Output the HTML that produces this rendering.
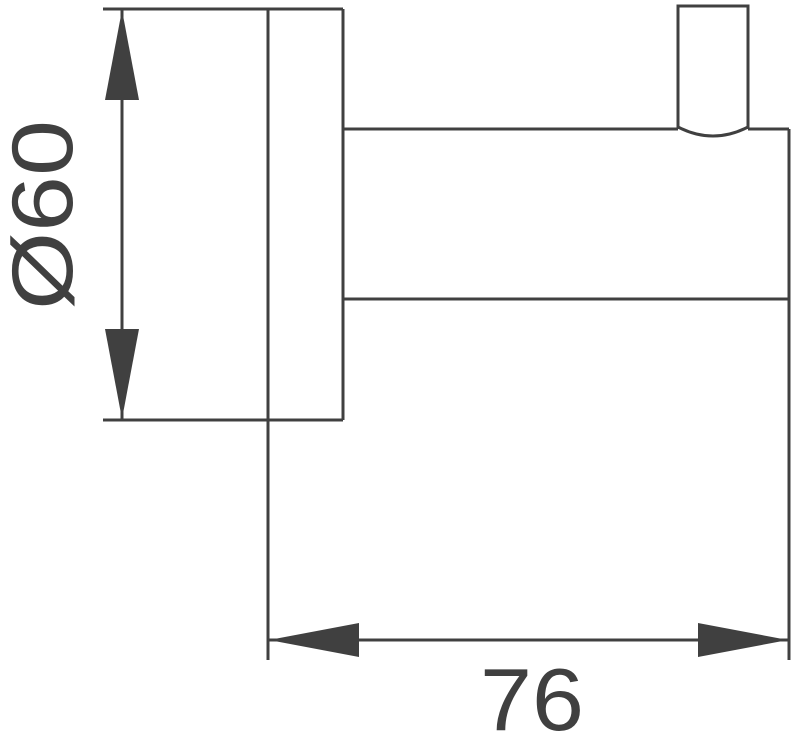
<!DOCTYPE html>
<html><head><style>html,body{margin:0;padding:0;background:#fff}svg{display:block}</style></head>
<body>
<svg width="792" height="736" viewBox="0 0 792 736" xmlns="http://www.w3.org/2000/svg">
<g stroke="#404040" stroke-width="3" fill="none">
<line x1="103" y1="9" x2="343" y2="9"/>
<line x1="103" y1="420" x2="343" y2="420"/>
<line x1="268" y1="9" x2="268" y2="660"/>
<line x1="343" y1="9" x2="343" y2="420"/>
<line x1="122" y1="9" x2="122" y2="420"/>
<line x1="343" y1="129" x2="678" y2="129"/>
<line x1="748" y1="129" x2="789" y2="129"/>
<line x1="343" y1="299" x2="789" y2="299"/>
<line x1="789" y1="129" x2="789" y2="660"/>
<line x1="268" y1="640" x2="789" y2="640"/>
<path d="M678 129 V6 H748 V129"/>
<path d="M678 127 Q713 145 748 127"/>
</g>
<g fill="#404040">
<polygon points="122,10 105,100 139,100"/>
<polygon points="122,419 105,329 139,329"/>
<polygon points="269,640 359,623 359,657"/>
<polygon points="788,640 698,623 698,657"/>
</g>
<text x="532" y="730" font-family="Liberation Sans, sans-serif" font-size="88" fill="#404040" text-anchor="middle" textLength="104" lengthAdjust="spacingAndGlyphs">76</text>
<text transform="translate(72,310) rotate(-90)" x="0" y="0" font-family="Liberation Sans, sans-serif" font-size="86" fill="#404040" textLength="190" lengthAdjust="spacingAndGlyphs">Ø60</text>
</svg>
</body></html>
